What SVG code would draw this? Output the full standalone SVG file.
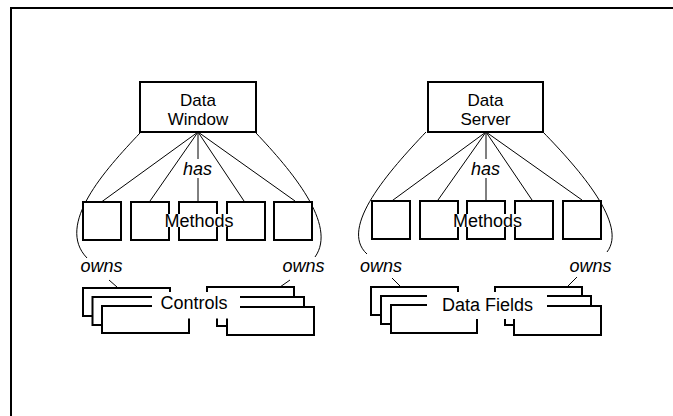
<svg xmlns="http://www.w3.org/2000/svg" width="673" height="416" viewBox="0 0 673 416">
<style>
.box{fill:#fff;stroke:#000;stroke-width:2}
.ln{fill:none;stroke:#000;stroke-width:1}
.frame{fill:none;stroke:#000;stroke-width:2}
.bg{fill:#fff;stroke:none}
text{font-family:"Liberation Sans",Arial,sans-serif;font-size:18px;fill:#000;text-anchor:middle}
.bt{font-size:17px}
.it{font-style:italic}
</style>
<rect width="673" height="416" fill="#fff"/>
<path class="frame" d="M11,416 V8 H673"/>
<g id="connectors">
<path class="ln" d="M198,132 L100,203 M198,132 L150,201 M198,132 L198,202 M198,132 L244,201 M198,132 L295,201"/>
<path class="ln" d="M140,133 C105,170 55,225 87,258"/>
<path class="ln" d="M256,133 C291,170 338,225 315,257"/>
<path class="ln" d="M109,280 L117,287 M290,280 L280,287"/>
<path class="ln" d="M486,132 L389,203 M486,132 L438,200 M486,132 L486,201 M486,132 L532,200 M486,132 L582,200"/>
<path class="ln" d="M426,132 C390,170 338,228 367,254"/>
<path class="ln" d="M543,132 C580,170 628,225 607,252"/>
<path class="ln" d="M392,278 L400,286 M577,277 L568,286"/>
</g>
<g id="data-window">
<rect class="box" x="140" y="82" width="116" height="50"/>
<text class="bt" x="198" y="105.5">Data</text>
<text class="bt" x="198" y="125">Window</text>
</g>
<g id="data-server">
<rect class="box" x="428" y="82" width="115" height="50"/>
<text class="bt" x="485.5" y="105.5">Data</text>
<text class="bt" x="485.5" y="125">Server</text>
</g>
<g id="has-left">
<rect class="bg" x="182" y="159" width="31" height="19"/>
<text class="it" x="197.5" y="175">has</text>
</g>
<g id="has-right">
<rect class="bg" x="470" y="159" width="31" height="19"/>
<text class="it" x="485.5" y="175">has</text>
</g>
<g id="methods-left">
<rect class="box" x="83" y="202" width="38" height="38"/>
<rect class="box" x="131" y="202" width="38" height="38"/>
<rect class="box" x="179" y="202" width="38" height="38"/>
<rect class="box" x="227" y="202" width="38" height="38"/>
<rect class="box" x="274" y="202" width="38" height="38"/>
<rect class="bg" x="164" y="214" width="70" height="13"/>
<text x="199" y="227">Methods</text>
</g>
<g id="methods-right">
<rect class="box" x="372" y="201" width="38" height="38"/>
<rect class="box" x="420" y="201" width="38" height="38"/>
<rect class="box" x="467" y="201" width="38" height="38"/>
<rect class="box" x="515" y="201" width="38" height="38"/>
<rect class="box" x="563" y="201" width="38" height="38"/>
<rect class="bg" x="451" y="214" width="73" height="13"/>
<text x="487.5" y="227">Methods</text>
</g>
<g id="owns-labels">
<text class="it" x="101.5" y="272">owns</text>
<text class="it" x="303.5" y="272">owns</text>
<text class="it" x="381" y="272">owns</text>
<text class="it" x="590.5" y="272">owns</text>
</g>
<g id="controls">
<rect class="box" x="83" y="288" width="87" height="28"/>
<rect class="box" x="92.5" y="297" width="87" height="28"/>
<rect class="box" x="102" y="306" width="87" height="27"/>
<rect class="box" x="207" y="287" width="87" height="30"/>
<rect class="box" x="217" y="297" width="87" height="29"/>
<rect class="box" x="227" y="307" width="87" height="28"/>
<rect class="bg" x="152" y="292" width="88" height="26.5"/>
<text x="194" y="309">Controls</text>
</g>
<g id="data-fields">
<rect class="box" x="371" y="287" width="87" height="28"/>
<rect class="box" x="381" y="296" width="86" height="28"/>
<rect class="box" x="391" y="305" width="86" height="28"/>
<rect class="box" x="495" y="287" width="87" height="30"/>
<rect class="box" x="505" y="296" width="86" height="29"/>
<rect class="box" x="514" y="306" width="87" height="29"/>
<rect class="bg" x="427" y="292" width="120" height="27"/>
<text x="487.5" y="311">Data Fields</text>
</g>
</svg>
